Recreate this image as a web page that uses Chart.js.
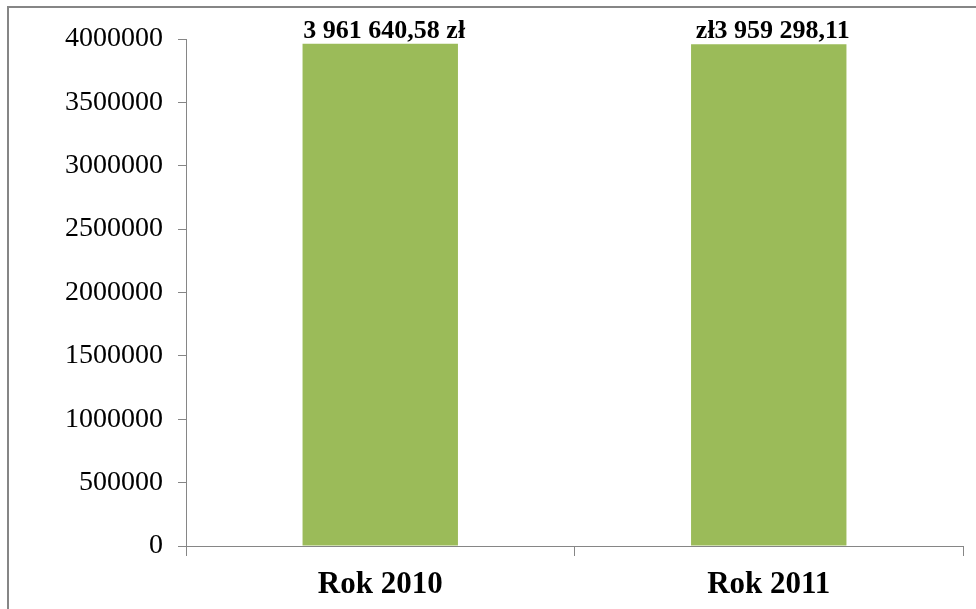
<!DOCTYPE html>
<html>
<head>
<meta charset="utf-8">
<script src="https://cdn.jsdelivr.net/npm/chart.js@4"></script>
<style>
    body { margin: 0; overflow: hidden; background: #fff; }
    .wrap { position: relative; width: 976px; height: 609px; }
    .ramka { position: absolute; left: 7px; top: 6px; width: 1000px; height: 700px; border: 2px solid #868686; pointer-events: none; }
</style>
</head>
<body>
<div class="wrap">
    <canvas id="wykres" width="976" height="609"></canvas>
    <div class="ramka"></div>
</div>
<script>
const lata = ['Rok 2010', 'Rok 2011'];
const kwoty = [3961640.58, 3959298.11];
const etykiety = ['3 961 640,58 zł', 'zł3 959 298,11'];

const ctx = document.getElementById('wykres');

// podpisy nad slupkami
const napisy = {
    id: 'napisy',
    afterDatasetsDraw(chart) {
        const c = chart.ctx;
        const meta = chart.getDatasetMeta(0);
        c.save();
        c.font = 'bold 26px "Liberation Serif"';
        c.fillStyle = '#000';
        c.textAlign = 'center';
        c.textBaseline = 'alphabetic';
        meta.data.forEach((bar, i) => {
            c.fillText(etykiety[i], bar.x + 4, bar.y - 6);
        });
        c.restore();
    }
};

new Chart(ctx, {
    type: 'bar',
    data: {
        labels: lata,
        datasets: [{
            data: kwoty,
            backgroundColor: '#9BBB59',
            borderWidth: 0,
            barPercentage: 0.4,
            categoryPercentage: 1
        }]
    },
    options: {
        responsive: false,
        animation: false,
        layout: { padding: { top: 39, right: 13, left: 0, bottom: 0 } },
        plugins: {
            legend: { display: false },
            tooltip: { enabled: false }
        },
        scales: {
            x: {
                offset: true,
                grid: { offset: true, drawOnChartArea: false, tickLength: 10, color: '#868686', tickColor: '#868686' },
                border: { color: '#868686', width: 1 },
                ticks: { color: '#000', padding: 10, font: { family: 'Liberation Serif', size: 31, weight: 'bold' } },
                afterFit: (scale) => { scale.height = 63; }
            },
            y: {
                min: 0,
                max: 4000000,
                grid: { drawOnChartArea: false, tickLength: 8, color: '#868686', tickColor: '#868686' },
                border: { color: '#868686', width: 1 },
                ticks: {
                    stepSize: 500000,
                    color: '#000',
                    padding: 15,
                    font: { family: 'Liberation Serif', size: 28 },
                    callback: (v) => String(v)
                },
                afterFit: (scale) => { scale.width = 186; }
            }
        }
    },
    plugins: [napisy]
});
</script>
</body>
</html>
